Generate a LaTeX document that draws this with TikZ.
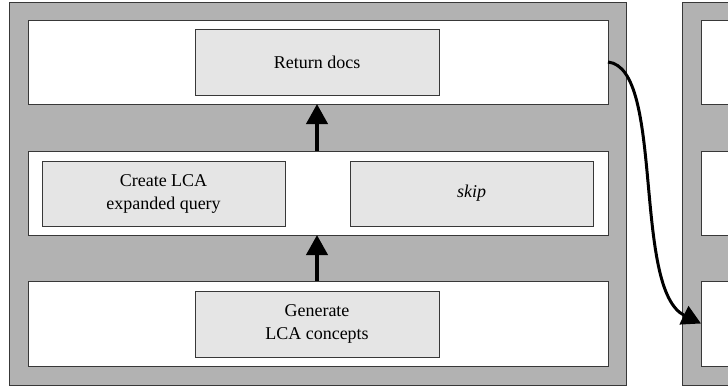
\documentclass[tikz,border=0pt]{standalone}
\usepackage{fontspec}
\setmainfont{Liberation Serif}
\usetikzlibrary{arrows.meta}

\definecolor{panelgray}{gray}{0.70}
\definecolor{boxgray}{gray}{0.90}
\definecolor{edgegray}{gray}{0.22}

\tikzset{
	panel/.style={draw=edgegray, fill=panelgray, line width=0.9pt, inner sep=0pt, outer sep=0pt},
	band/.style={draw=edgegray, fill=white, line width=0.9pt, inner sep=0pt, outer sep=0pt},
	procbox/.style={draw=edgegray, fill=boxgray, line width=0.9pt, inner sep=0pt, outer sep=0pt,
		align=center, font=\fontsize{18}{23}\selectfont},
	flow/.style={line width=4pt, -{Triangle[width=21pt, length=20pt]}},
	jump/.style={line width=3pt, -{Triangle[width=20pt, length=19pt]}}
}

\begin{document}
\begin{tikzpicture}[x=1pt, y=-1pt]
		\clip (0,0) rectangle (728,388);
		\fill[white] (0,0) rectangle (728,388);

		\node[panel, minimum width=617pt, minimum height=383pt] (stageA) at (317.5,193.5) {};
		\node[panel, minimum width=98pt, minimum height=383pt] (stageB) at (731,193.5) {};

		\node[band, minimum width=580pt, minimum height=84pt] (topA) at (318,62) {};
		\node[band, minimum width=580pt, minimum height=84pt] (midA) at (318,193) {};
		\node[band, minimum width=580pt, minimum height=85pt] (botA) at (318,323.5) {};

		\node[band, minimum width=79pt, minimum height=84pt] (topB) at (740.5,62) {};
		\node[band, minimum width=79pt, minimum height=84pt] (midB) at (740.5,193) {};
		\node[band, minimum width=79pt, minimum height=85pt] (botB) at (740.5,323.5) {};

		\node[procbox, minimum width=244pt, minimum height=66pt] (ret) at (317,62) {Return docs};
		\node[procbox, minimum width=243pt, minimum height=65pt] (expand) at (163.5,193.5) {Create LCA\\expanded query};
		\node[procbox, minimum width=243pt, minimum height=65pt] (skip) at (471.5,193.5) {\textit{skip}};
		\node[procbox, minimum width=244pt, minimum height=66pt] (concepts) at (317,324) {Generate\\LCA concepts};

		\draw[flow] (ret |- botA.north) -- (ret |- midA.south);
		\draw[flow] (ret |- midA.north) -- (ret |- topA.south);

		\draw[jump] (topA.east) .. controls (665,68) and (632,290) .. (botB.west);
	\end{tikzpicture}
\end{document}
